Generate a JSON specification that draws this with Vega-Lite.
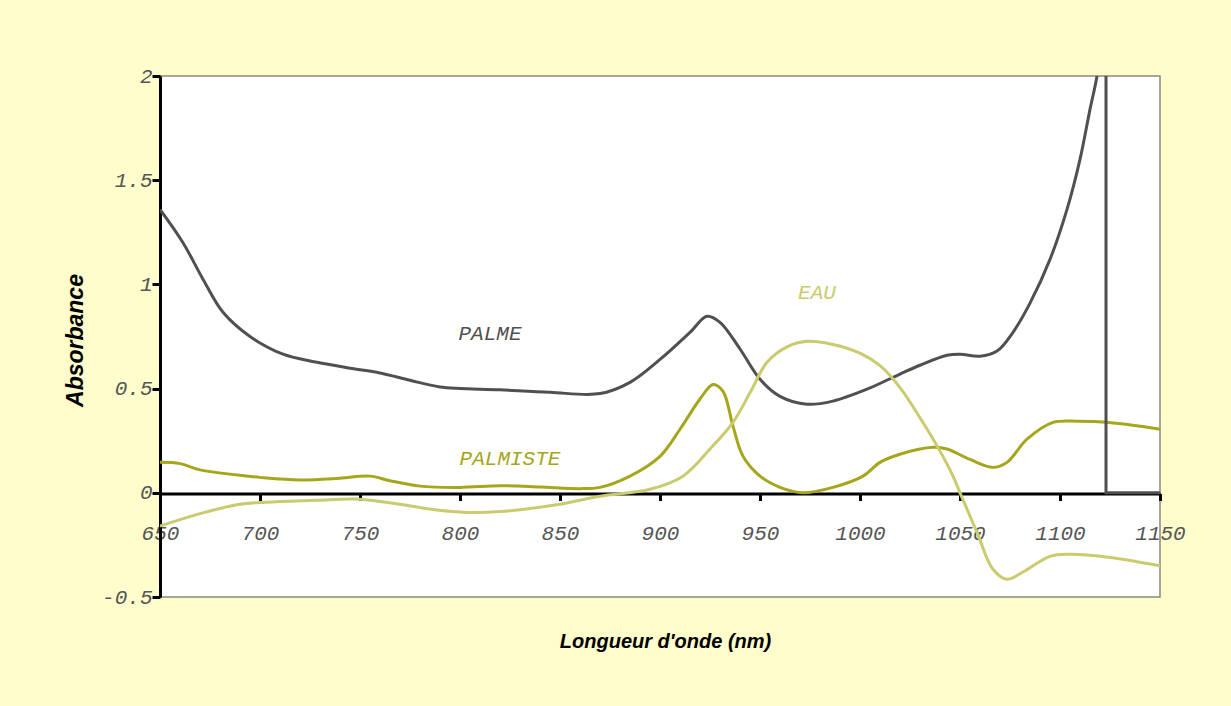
{
  "$schema": "https://vega.github.io/schema/vega-lite/v6.json",
  "width": 1000,
  "height": 521,
  "autosize": {"type": "none"},
  "padding": {"left": 160, "top": 76, "right": 71, "bottom": 109},
  "background": "#FFFDCC",
  "config": {
    "view": {"fill": "#FFFFFF", "stroke": "#8a8a78", "strokeWidth": 1.5}
  },
  "encoding": {
    "x": {
      "field": "nm", "type": "quantitative",
      "scale": {"domain": [650, 1150], "nice": false, "zero": false},
      "axis": {
        "orient": "bottom", "offset": -103.5,
        "values": [650, 700, 750, 800, 850, 900, 950, 1000, 1050, 1100, 1150],
        "format": "d",
        "grid": false,
        "domainColor": "#000000", "domainWidth": 3,
        "tickColor": "#000000", "tickWidth": 3, "tickSize": 7,
        "labelFont": "Liberation Mono", "labelFontStyle": "italic", "labelFontSize": 21,
        "labelColor": "#555555", "labelPadding": 22, "labelBaseline": "top", "labelFlush": false,
        "title": "Longueur d'onde (nm)",
        "titleFont": "Liberation Sans", "titleFontStyle": "italic", "titleFontWeight": "bold",
        "titleFontSize": 20, "titleColor": "#000000",
        "titleX": 505, "titleY": 148, "titleBaseline": "middle", "titleAlign": "center"
      }
    },
    "y": {
      "field": "a", "type": "quantitative",
      "scale": {"domain": [-0.5, 2], "nice": false, "zero": false},
      "axis": {
        "values": [-0.5, 0, 0.5, 1, 1.5, 2],
        "grid": false,
        "domainColor": "#000000", "domainWidth": 3,
        "tickColor": "#000000", "tickWidth": 3, "tickSize": 8,
        "labelExpr": "datum.value < 0 ? '-' + format(-datum.value, '~g') : format(datum.value, '~g')",
        "labelFont": "Liberation Mono", "labelFontStyle": "italic", "labelFontSize": 21,
        "labelColor": "#555555", "labelPadding": 0,
        "title": "Absorbance",
        "titleFont": "Liberation Sans", "titleFontStyle": "italic", "titleFontWeight": "bold",
        "titleFontSize": 23, "titleColor": "#000000",
        "titleX": -85, "titleY": 264, "titleBaseline": "middle", "titleAlign": "center", "titleAngle": -90
      }
    },
    "color": {
      "field": "s", "type": "nominal",
      "scale": {"domain": ["PALME", "PALMISTE", "EAU"], "range": ["#505050", "#A6A61C", "#C9CB6E"]},
      "legend": null
    }
  },
  "layer": [
    {
      "data": {
        "values": [
          {"s": "PALME", "nm": 650, "a": 1.36},
          {"s": "PALME", "nm": 661.5, "a": 1.2},
          {"s": "PALME", "nm": 671.5, "a": 1.025},
          {"s": "PALME", "nm": 681.5, "a": 0.866},
          {"s": "PALME", "nm": 695, "a": 0.75},
          {"s": "PALME", "nm": 711.5, "a": 0.665},
          {"s": "PALME", "nm": 728.5, "a": 0.626},
          {"s": "PALME", "nm": 745, "a": 0.598},
          {"s": "PALME", "nm": 760, "a": 0.575},
          {"s": "PALME", "nm": 775, "a": 0.54},
          {"s": "PALME", "nm": 790, "a": 0.508},
          {"s": "PALME", "nm": 820, "a": 0.494},
          {"s": "PALME", "nm": 845, "a": 0.482},
          {"s": "PALME", "nm": 870, "a": 0.476},
          {"s": "PALME", "nm": 885, "a": 0.53},
          {"s": "PALME", "nm": 900, "a": 0.64},
          {"s": "PALME", "nm": 915, "a": 0.77},
          {"s": "PALME", "nm": 923.5, "a": 0.847},
          {"s": "PALME", "nm": 930, "a": 0.818},
          {"s": "PALME", "nm": 940, "a": 0.69},
          {"s": "PALME", "nm": 950, "a": 0.545},
          {"s": "PALME", "nm": 960, "a": 0.463},
          {"s": "PALME", "nm": 973.5, "a": 0.425},
          {"s": "PALME", "nm": 986.5, "a": 0.44},
          {"s": "PALME", "nm": 1003.5, "a": 0.497},
          {"s": "PALME", "nm": 1020, "a": 0.57},
          {"s": "PALME", "nm": 1030, "a": 0.612},
          {"s": "PALME", "nm": 1043.5, "a": 0.66},
          {"s": "PALME", "nm": 1050, "a": 0.665},
          {"s": "PALME", "nm": 1060, "a": 0.655},
          {"s": "PALME", "nm": 1068.5, "a": 0.68},
          {"s": "PALME", "nm": 1076.5, "a": 0.77},
          {"s": "PALME", "nm": 1085, "a": 0.91},
          {"s": "PALME", "nm": 1095, "a": 1.12},
          {"s": "PALME", "nm": 1103.5, "a": 1.36},
          {"s": "PALME", "nm": 1110, "a": 1.6},
          {"s": "PALME", "nm": 1115, "a": 1.84},
          {"s": "PALME", "nm": 1118.5, "a": 2.0},
          {"s": "PALME", "nm": 1121, "a": 2.2},

          {"s": "PALMISTE", "nm": 650, "a": 0.146},
          {"s": "PALMISTE", "nm": 660, "a": 0.14},
          {"s": "PALMISTE", "nm": 670, "a": 0.11},
          {"s": "PALMISTE", "nm": 690, "a": 0.084},
          {"s": "PALMISTE", "nm": 700, "a": 0.074},
          {"s": "PALMISTE", "nm": 720, "a": 0.062},
          {"s": "PALMISTE", "nm": 740, "a": 0.07},
          {"s": "PALMISTE", "nm": 755, "a": 0.08},
          {"s": "PALMISTE", "nm": 765, "a": 0.058},
          {"s": "PALMISTE", "nm": 780, "a": 0.032},
          {"s": "PALMISTE", "nm": 800, "a": 0.026},
          {"s": "PALMISTE", "nm": 820, "a": 0.034},
          {"s": "PALMISTE", "nm": 840, "a": 0.028},
          {"s": "PALMISTE", "nm": 860, "a": 0.02},
          {"s": "PALMISTE", "nm": 870, "a": 0.026},
          {"s": "PALMISTE", "nm": 885, "a": 0.08},
          {"s": "PALMISTE", "nm": 900, "a": 0.175},
          {"s": "PALMISTE", "nm": 910, "a": 0.305},
          {"s": "PALMISTE", "nm": 920, "a": 0.45},
          {"s": "PALMISTE", "nm": 926.5, "a": 0.52},
          {"s": "PALMISTE", "nm": 931.5, "a": 0.487},
          {"s": "PALMISTE", "nm": 936.5, "a": 0.32},
          {"s": "PALMISTE", "nm": 941.5, "a": 0.175},
          {"s": "PALMISTE", "nm": 950, "a": 0.08},
          {"s": "PALMISTE", "nm": 960, "a": 0.026},
          {"s": "PALMISTE", "nm": 971.5, "a": 0.0},
          {"s": "PALMISTE", "nm": 986.5, "a": 0.026},
          {"s": "PALMISTE", "nm": 1001.5, "a": 0.08},
          {"s": "PALMISTE", "nm": 1010, "a": 0.146},
          {"s": "PALMISTE", "nm": 1020, "a": 0.185},
          {"s": "PALMISTE", "nm": 1036.5, "a": 0.218},
          {"s": "PALMISTE", "nm": 1043.5, "a": 0.21},
          {"s": "PALMISTE", "nm": 1055, "a": 0.16},
          {"s": "PALMISTE", "nm": 1066.5, "a": 0.122},
          {"s": "PALMISTE", "nm": 1073.5, "a": 0.146},
          {"s": "PALMISTE", "nm": 1083.5, "a": 0.257},
          {"s": "PALMISTE", "nm": 1096.5, "a": 0.338},
          {"s": "PALMISTE", "nm": 1110, "a": 0.343},
          {"s": "PALMISTE", "nm": 1123.5, "a": 0.338},
          {"s": "PALMISTE", "nm": 1150, "a": 0.305},

          {"s": "EAU", "nm": 650, "a": -0.16},
          {"s": "EAU", "nm": 670, "a": -0.1},
          {"s": "EAU", "nm": 690, "a": -0.055},
          {"s": "EAU", "nm": 703, "a": -0.045},
          {"s": "EAU", "nm": 728, "a": -0.036},
          {"s": "EAU", "nm": 748, "a": -0.03},
          {"s": "EAU", "nm": 770, "a": -0.055},
          {"s": "EAU", "nm": 786.5, "a": -0.08},
          {"s": "EAU", "nm": 803.5, "a": -0.094},
          {"s": "EAU", "nm": 820, "a": -0.09},
          {"s": "EAU", "nm": 850, "a": -0.055},
          {"s": "EAU", "nm": 870, "a": -0.017},
          {"s": "EAU", "nm": 895, "a": 0.017},
          {"s": "EAU", "nm": 911.5, "a": 0.08},
          {"s": "EAU", "nm": 925, "a": 0.21},
          {"s": "EAU", "nm": 936.5, "a": 0.338},
          {"s": "EAU", "nm": 945, "a": 0.48},
          {"s": "EAU", "nm": 953.5, "a": 0.626},
          {"s": "EAU", "nm": 963.5, "a": 0.7},
          {"s": "EAU", "nm": 973.5, "a": 0.727},
          {"s": "EAU", "nm": 986.5, "a": 0.712},
          {"s": "EAU", "nm": 1000, "a": 0.67},
          {"s": "EAU", "nm": 1010, "a": 0.61},
          {"s": "EAU", "nm": 1020, "a": 0.505},
          {"s": "EAU", "nm": 1030, "a": 0.36},
          {"s": "EAU", "nm": 1040, "a": 0.2},
          {"s": "EAU", "nm": 1046.5, "a": 0.08},
          {"s": "EAU", "nm": 1050, "a": 0.0},
          {"s": "EAU", "nm": 1058.5, "a": -0.19},
          {"s": "EAU", "nm": 1066.5, "a": -0.367},
          {"s": "EAU", "nm": 1073.5, "a": -0.415},
          {"s": "EAU", "nm": 1081.5, "a": -0.38},
          {"s": "EAU", "nm": 1095, "a": -0.305},
          {"s": "EAU", "nm": 1105, "a": -0.295},
          {"s": "EAU", "nm": 1125, "a": -0.31},
          {"s": "EAU", "nm": 1150, "a": -0.35}
        ]
      },
      "mark": {"type": "line", "interpolate": "catmull-rom", "strokeWidth": 3, "clip": true}
    },
    {
      "data": {
        "values": [
          {"s": "PALME", "i": 1, "nm": 1123, "a": 2},
          {"s": "PALME", "i": 2, "nm": 1123, "a": 0},
          {"s": "PALME", "i": 3, "nm": 1150, "a": 0}
        ]
      },
      "mark": {"type": "line", "interpolate": "linear", "strokeWidth": 3, "clip": true},
      "encoding": {"order": {"field": "i", "type": "quantitative"}}
    },
    {
      "data": {
        "values": [
          {"s": "PALME", "nm": 815, "a": 0.76, "label": "PALME"},
          {"s": "PALMISTE", "nm": 825, "a": 0.16, "label": "PALMISTE"},
          {"s": "EAU", "nm": 978.5, "a": 0.957, "label": "EAU"}
        ]
      },
      "mark": {"type": "text", "font": "Liberation Mono", "fontStyle": "italic", "fontSize": 21, "align": "center", "baseline": "middle"},
      "encoding": {
        "text": {"field": "label"}
      }
    }
  ]
}
